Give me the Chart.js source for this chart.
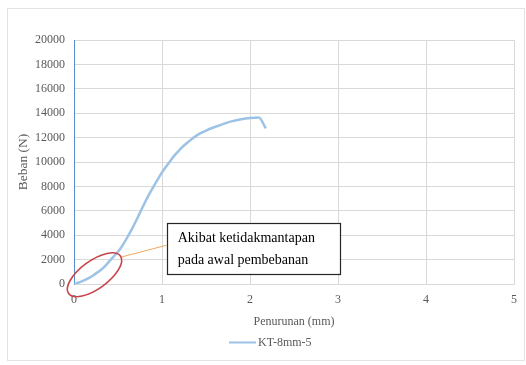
<!DOCTYPE html>
<html>
<head>
<meta charset="utf-8">
<script src="https://cdn.jsdelivr.net/npm/chart.js@4/dist/chart.umd.min.js"></script>
<style>
  html, body { margin: 0; padding: 0; background: #ffffff; }
  #wrap { width: 526px; height: 365px; position: relative; }
</style>
</head>
<body>
<div id="wrap"><canvas id="c" width="526" height="365"></canvas></div>
<script>
// Load–settlement test, specimen KT-8mm-5
const seriesName = "KT-8mm-5";
const settlement = [0, 0.05, 0.1, 0.15, 0.2, 0.25, 0.3, 0.35, 0.4, 0.45, 0.5, 0.55, 0.6, 0.65, 0.7, 0.75, 0.8, 0.85, 0.9, 0.95, 1.0, 1.05, 1.1, 1.15, 1.2, 1.25, 1.3, 1.35, 1.4, 1.45, 1.5, 1.6, 1.7, 1.8, 1.9, 2.0, 2.1, 2.18];
const load = [0, 100, 250, 420, 620, 870, 1120, 1450, 1850, 2250, 2650, 3150, 3750, 4400, 5100, 5850, 6600, 7300, 7950, 8550, 9150, 9650, 10150, 10600, 11000, 11350, 11650, 11950, 12200, 12400, 12580, 12870, 13130, 13350, 13500, 13600, 13650, 12750];

const xTicks = [0, 1, 2, 3, 4, 5];
const yTicks = [0, 2000, 4000, 6000, 8000, 10000, 12000, 14000, 16000, 18000, 20000];

// Callout marking the unstable start of loading
const calloutLines = ["Akibat ketidakmantapan", "pada awal pembebanan"];
const calloutBox = { x0: 1.053, x1: 3.02, y0: 5020, y1: 880 };     // data units
const calloutRing = { x: 0.233, y: 760 };                           // data units
const calloutAnchor = { from: { x: 0.538, y: 2210 }, to: { x: 1.053, y: 3180 } };

const SERIF = "'Liberation Serif', 'Times New Roman', serif";
const GREY = "#595959";

const decorations = {
  id: "decorations",
  beforeDraw(chart) {
    const ctx = chart.ctx;
    ctx.save();
    ctx.fillStyle = "#ffffff";
    ctx.fillRect(0, 0, chart.width, chart.height);
    ctx.strokeStyle = "#e3e3e3";
    ctx.lineWidth = 1;
    ctx.strokeRect(7.5, 8.5, 517, 352);
    ctx.restore();
  },
  afterDraw(chart) {
    const ctx = chart.ctx;
    const xs = chart.scales.x, ys = chart.scales.y;
    ctx.save();

    // leader line from ring to the note
    ctx.strokeStyle = "#f0a862";
    ctx.lineWidth = 1;
    ctx.beginPath();
    ctx.moveTo(xs.getPixelForValue(calloutAnchor.from.x), ys.getPixelForValue(calloutAnchor.from.y));
    ctx.lineTo(xs.getPixelForValue(calloutAnchor.to.x), ys.getPixelForValue(calloutAnchor.to.y));
    ctx.stroke();

    // red ring around the initial part of the curve
    const cx = xs.getPixelForValue(calloutRing.x), cy = ys.getPixelForValue(calloutRing.y);
    ctx.strokeStyle = "#c9444a";
    ctx.lineWidth = 1.6;
    ctx.beginPath();
    ctx.ellipse(cx, cy, 32, 14, -36 * Math.PI / 180, 0, Math.PI * 2);
    ctx.stroke();

    // note box
    const bx0 = xs.getPixelForValue(calloutBox.x0), bx1 = xs.getPixelForValue(calloutBox.x1);
    const by0 = ys.getPixelForValue(calloutBox.y0), by1 = ys.getPixelForValue(calloutBox.y1);
    ctx.fillStyle = "#ffffff";
    ctx.fillRect(bx0, by0, bx1 - bx0, by1 - by0);
    ctx.strokeStyle = "#262626";
    ctx.lineWidth = 1.2;
    ctx.strokeRect(Math.round(bx0) + 0.5, Math.round(by0) + 0.5, Math.round(bx1 - bx0), Math.round(by1 - by0));
    ctx.fillStyle = "#000000";
    ctx.font = "14px " + SERIF;
    ctx.textBaseline = "middle";
    ctx.textAlign = "left";
    ctx.fillText(calloutLines[0], bx0 + 11, by0 + 16);
    ctx.fillText(calloutLines[1], bx0 + 11, by0 + 38);

    // legend entry
    const ds = chart.data.datasets[0];
    const ly = 342.5;
    ctx.strokeStyle = ds.borderColor;
    ctx.lineWidth = 2;
    ctx.beginPath();
    ctx.moveTo(229, ly);
    ctx.lineTo(256, ly);
    ctx.stroke();
    ctx.fillStyle = GREY;
    ctx.font = "12px " + SERIF;
    ctx.fillText(ds.label, 258, ly);
    ctx.restore();
  }
};

new Chart(document.getElementById("c"), {
  type: "line",
  data: {
    datasets: [{
      label: seriesName,
      data: settlement.map((v, i) => ({ x: v, y: load[i] })),
      borderColor: "#9cc3e5",
      backgroundColor: "#9cc3e5",
      borderWidth: 2.5,
      pointRadius: 0,
      tension: 0.3,
      cubicInterpolationMode: "monotone",
      fill: false
    }]
  },
  options: {
    responsive: false,
    animation: false,
    events: [],
    layout: { padding: { left: 8, right: 9, top: 40, bottom: 36 } },
    plugins: { legend: { display: false }, tooltip: { enabled: false } },
    scales: {
      x: {
        type: "linear",
        min: 0, max: 5,
        afterBuildTicks: s => { s.ticks = xTicks.map(v => ({ value: v })); },
        afterFit: s => { s.height = 45; },
        grid: { color: "#d9d9d9", drawTicks: false, lineWidth: 1 },
        border: { color: "#d9d9d9", width: 1 },
        ticks: { padding: 9, color: GREY, font: { family: SERIF, size: 12 }, maxRotation: 0, callback: v => String(v) },
        title: { display: true, text: "Penurunan (mm)", color: GREY, font: { family: SERIF, size: 12 }, padding: { top: 0, bottom: 0 } }
      },
      y: {
        type: "linear",
        min: 0, max: 20000,
        afterBuildTicks: s => { s.ticks = yTicks.map(v => ({ value: v })); },
        afterFit: s => { s.width = 66; },
        grid: { color: "#d9d9d9", drawTicks: false, lineWidth: 1 },
        border: { color: "#5b8bd0", width: 1 },
        ticks: { padding: 9, color: GREY, font: { family: SERIF, size: 12 }, callback: v => String(v) },
        title: { display: true, text: "Beban (N)", color: GREY, font: { family: SERIF, size: 13.5 }, padding: { top: 7, bottom: 0 } }
      }
    }
  },
  plugins: [decorations]
});
</script>
